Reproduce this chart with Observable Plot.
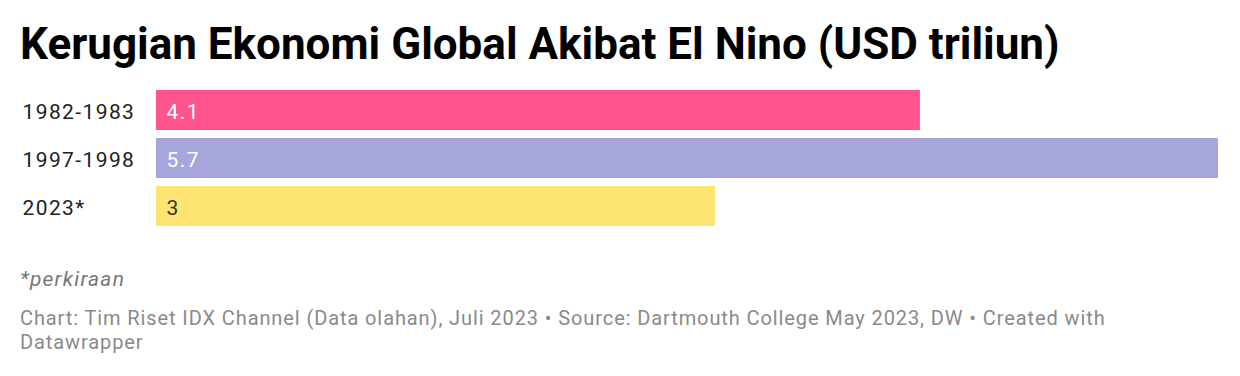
<!DOCTYPE html>
<html>
<head>
<meta charset="utf-8">
<script src="https://cdn.jsdelivr.net/npm/d3@7"></script>
<script src="https://cdn.jsdelivr.net/npm/@observablehq/plot@0.6"></script>
<style>
  html, body { margin: 0; padding: 0; background: #fff; }
  body { width: 1240px; height: 376px; overflow: hidden; font-family: Roboto, sans-serif; }
  #title { position: absolute; left: 20px; top: 18px; font-size: 44px; font-weight: 700; color: #000; line-height: 52px; white-space: nowrap; }
  #chart { position: absolute; left: 0; top: 84px; }
  #note { position: absolute; left: 20px; top: 265px; font-size: 21px; font-style: italic; color: #777; line-height: 28px; letter-spacing: 1.2px; }
  #caption { position: absolute; left: 20px; top: 306px; width: 1130px; font-size: 20px; color: #8a8a8a; line-height: 24px; letter-spacing: 0.9px; }
</style>
</head>
<body>
<div id="title">Kerugian Ekonomi Global Akibat El Nino (USD triliun)</div>
<div id="chart"></div>
<div id="note">*perkiraan</div>
<div id="caption">Chart: Tim Riset IDX Channel (Data olahan), Juli 2023 • Source: Dartmouth College May 2023, DW • Created with Datawrapper</div>
<script>
const periods = ["1982-1983", "1997-1998", "2023*"];
const losses = [4.1, 5.7, 3];
const barColors = ["#ff558c", "#a6a5dc", "#fee572"];
const labelColors = ["#ffffff", "#ffffff", "#333333"];

const data = periods.map((p, i) => ({period: p, value: losses[i], color: barColors[i], labelColor: labelColors[i]}));

const chart = Plot.plot({
  width: 1240,
  height: 150,
  marginLeft: 156,
  marginRight: 22,
  marginTop: 6,
  marginBottom: 8,
  style: {fontFamily: "Roboto, sans-serif", fontSize: "21px", background: "transparent", letterSpacing: "1.4px"},
  x: {domain: [0, 5.7], axis: null},
  y: {domain: periods, axis: null, paddingInner: 8 / 48, paddingOuter: 0},
  marks: [
    Plot.barX(data, {x: "value", y: "period", fill: "color"}),
    Plot.text(data, {y: "period", text: "period", frameAnchor: "left", textAnchor: "start", dx: -134, dy: 1.5, fill: "#222", fontSize: 21}),
    Plot.text(data, {x: 0, y: "period", text: d => String(d.value), textAnchor: "start", dx: 10, dy: 1.5, fill: "labelColor", fontSize: 21})
  ]
});
document.getElementById("chart").appendChild(chart);
</script>
</body>
</html>
